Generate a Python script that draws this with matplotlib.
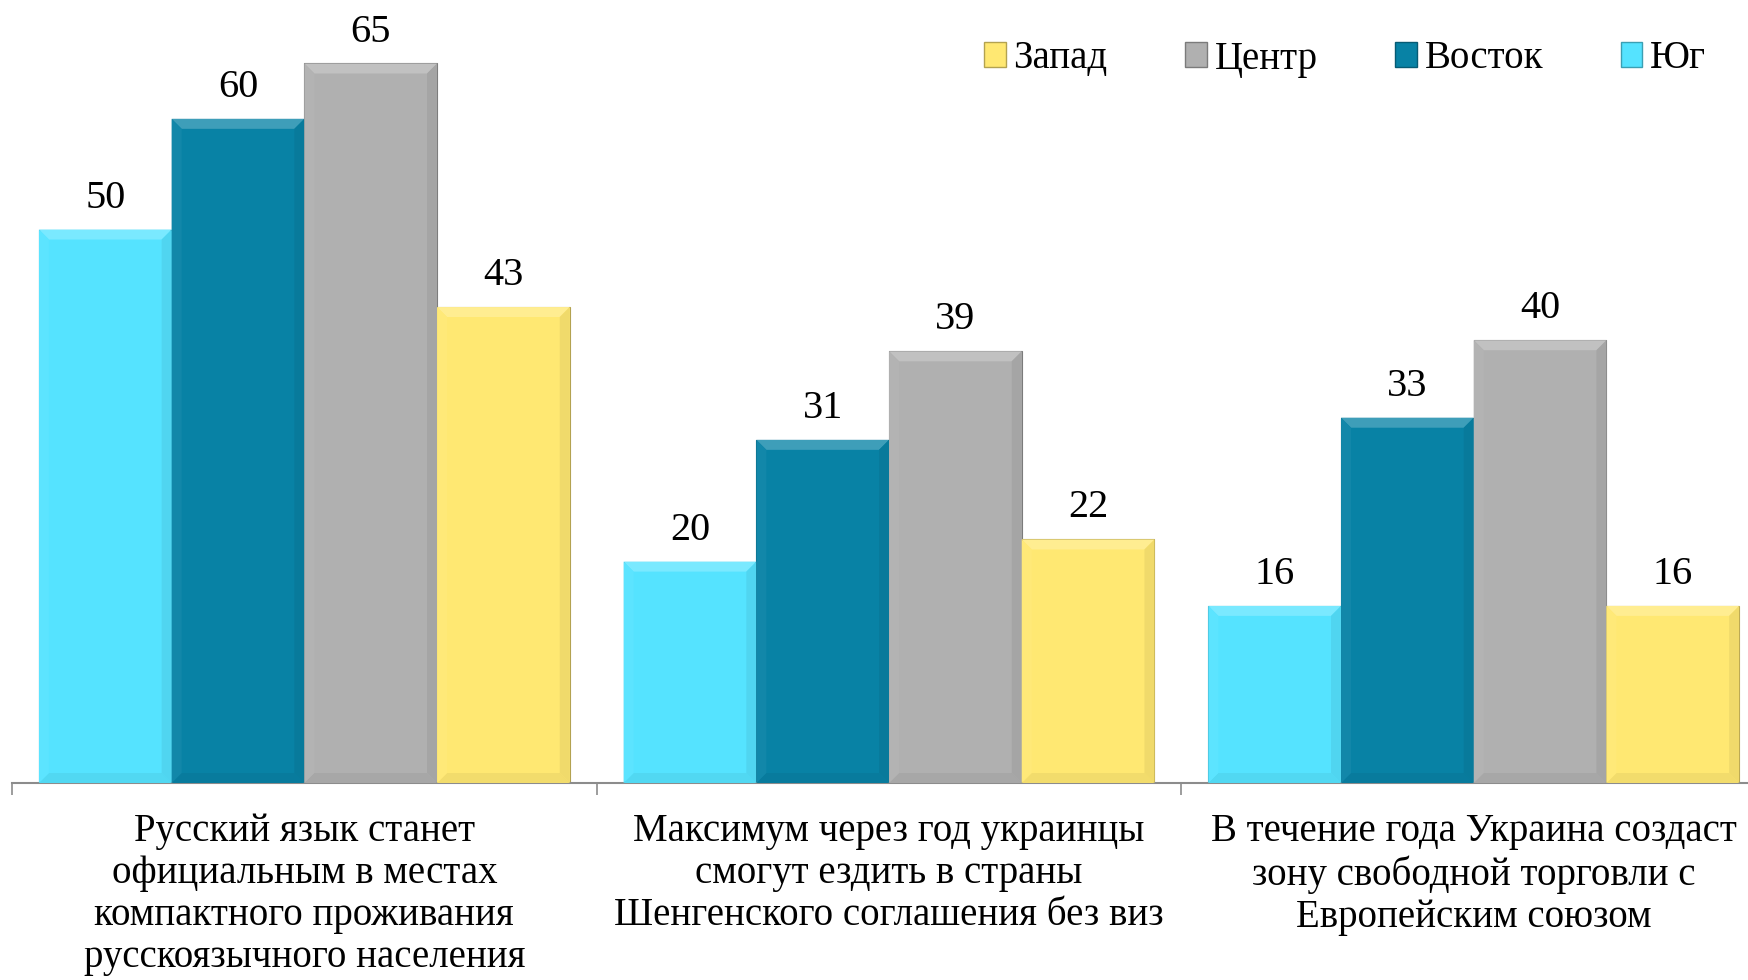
import matplotlib
matplotlib.use("Agg")
import matplotlib.pyplot as plt
from matplotlib.patches import Patch, Polygon
from matplotlib.colors import to_rgb
import numpy as np

plt.rcParams['font.family'] = ['Liberation Serif', 'DejaVu Serif']

categories = [
    "Русский язык станет\nофициальным в местах\nкомпактного проживания\nрусскоязычного населения",
    "Максимум через год украинцы\nсмогут ездить в страны\nШенгенского соглашения без виз",
    "В течение года Украина создаст\nзону свободной торговли с\nЕвропейским союзом",
]
series_names = ["Юг", "Восток", "Центр", "Запад"]
yug = [50, 20, 16]
vostok = [60, 31, 33]
centr = [65, 39, 40]
zapad = [43, 22, 16]
series_values = [yug, vostok, centr, zapad]
colors = ["#55E3FF", "#0882A5", "#B0B0B0", "#FFE872"]

W, H = 1748, 980
fig = plt.figure(figsize=(W / 100, H / 100), dpi=100)
ax_left = 12 / W
ax_w = (3 * 584.7) / W
ax_bottom = (H - 783) / H
ymax = 70
px_per_unit = 719.5 / 65
ax_h = ymax * px_per_unit / H
ax = fig.add_axes([ax_left, ax_bottom, ax_w, ax_h])

def mix(c, t, amt):
    c = np.array(to_rgb(c)); t = np.array(to_rgb(t))
    return tuple(c * (1 - amt) + t * amt)

bw = 132.7 / 584.7
x = np.arange(len(categories))
offsets = (np.arange(4) - 1.5) * bw
dx = 10 / 584.7
dy = 10 / px_per_unit

for k, (name, vals, col) in enumerate(zip(series_names, series_values, colors)):
    bars = ax.bar(x + offsets[k], vals, width=bw, color=col,
                  edgecolor=mix(col, 'black', 0.3), linewidth=0.8, label=name, zorder=2)
    for rect, v in zip(bars, vals):
        x0 = rect.get_x(); x1 = x0 + rect.get_width()
        y0 = 0; y1 = rect.get_height()
        top = Polygon([(x0, y1), (x1, y1), (x1 - dx, y1 - dy), (x0 + dx, y1 - dy)],
                      closed=True, facecolor=mix(col, 'white', 0.22), edgecolor='none', zorder=3)
        bot = Polygon([(x0, y0), (x1, y0), (x1 - dx, y0 + dy), (x0 + dx, y0 + dy)],
                      closed=True, facecolor=mix(col, 'black', 0.05), edgecolor='none', zorder=3)
        lft = Polygon([(x0, y0), (x0 + dx, y0 + dy), (x0 + dx, y1 - dy), (x0, y1)],
                      closed=True, facecolor=mix(col, 'white', 0.04), edgecolor='none', zorder=3)
        rgt = Polygon([(x1, y0), (x1 - dx, y0 + dy), (x1 - dx, y1 - dy), (x1, y1)],
                      closed=True, facecolor=mix(col, 'black', 0.06), edgecolor='none', zorder=3)
        for p in (top, bot, lft, rgt):
            ax.add_patch(p)
        ax.annotate(str(v), xy=(rect.get_x() + rect.get_width() / 2, y1),
                    xytext=(0, 22), textcoords='offset pixels',
                    ha='center', va='baseline', fontsize=29, color='black', zorder=4)

ax.set_xlim(-0.5, 2.5)
ax.set_ylim(0, ymax)
for s in ['top', 'right', 'left']:
    ax.spines[s].set_visible(False)
ax.spines['bottom'].set_color('#8C8C8C')
ax.spines['bottom'].set_linewidth(1.5)
ax.set_yticks([])
ax.set_xticks([-0.5, 0.5, 1.5, 2.5])
ax.set_xticklabels([])
ax.tick_params(axis='x', direction='out', length=8.6, width=1.2, color='#8C8C8C')

for i, cat in enumerate(categories):
    ax.annotate(cat, xy=(i, 0), xycoords=('data', 'axes fraction'),
                xytext=(0, -30), textcoords='offset pixels',
                ha='center', va='top', fontsize=28, linespacing=1.18, color='black')

handles = [Patch(facecolor=colors[k], edgecolor=mix(colors[k], 'black', 0.3), label=series_names[k])
           for k in [3, 2, 1, 0]]
fig.legend(handles=handles, loc='center right', bbox_to_anchor=(1706 / W, 1 - 59 / H),
           ncol=4, frameon=False, fontsize=28, handlelength=0.55, handleheight=0.6,
           handletextpad=0.2, columnspacing=2.0, borderaxespad=0, borderpad=0)

fig.savefig("out.png", dpi=100)
